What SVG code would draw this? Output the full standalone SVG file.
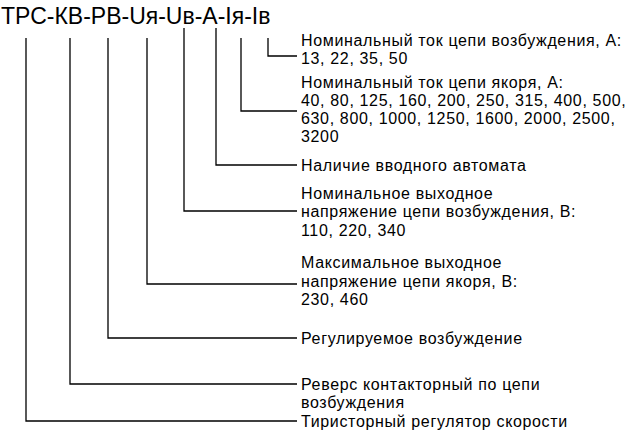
<svg xmlns="http://www.w3.org/2000/svg" width="630" height="434" viewBox="0 0 630 434">
<style>text{font-family:"Liberation Sans",Arial,sans-serif;fill:#000}.t{font-size:16px;letter-spacing:0.65px}.h{font-size:23px}#connectors path{fill:none;stroke:#000;stroke-width:1.3}</style>
<rect width="630" height="434" fill="#fff"/>
<g id="title"><text class="h" x="1" y="24">ТРС-КВ-РВ-Uя-Uв-А-Iя-Iв</text></g>
<g id="connectors">
<path d="M268 38V56H297"/>
<path d="M241 38V111H297"/>
<path d="M216 28V165H297"/>
<path d="M184 28V211H297"/>
<path d="M147 38V284H297"/>
<path d="M108 38V338H297"/>
<path d="M70 38V384H297"/>
<path d="M26 38V421H297"/>
</g>
<g id="n1"><text class="t" x="301" y="46">Номинальный ток цепи возбуждения, А:</text><text class="t" x="301" y="64">13, 22, 35, 50</text></g>
<g id="n2"><text class="t" x="301" y="88">Номинальный ток цепи якоря, А:</text><text class="t" x="301" y="106">40, 80, 125, 160, 200, 250, 315, 400, 500,</text><text class="t" x="301" y="124">630, 800, 1000, 1250, 1600, 2000, 2500,</text><text class="t" x="301" y="142">3200</text></g>
<g id="n3"><text class="t" x="301" y="171">Наличие вводного автомата</text></g>
<g id="n4"><text class="t" x="301" y="199">Номинальное выходное</text><text class="t" x="301" y="217">напряжение цепи возбуждения, В:</text><text class="t" x="301" y="236">110, 220, 340</text></g>
<g id="n5"><text class="t" x="301" y="268">Максимальное выходное</text><text class="t" x="301" y="287">напряжение цепи якоря, В:</text><text class="t" x="301" y="305">230, 460</text></g>
<g id="n6"><text class="t" x="301" y="344">Регулируемое возбуждение</text></g>
<g id="n7"><text class="t" x="301" y="390">Реверс контакторный по цепи</text><text class="t" x="301" y="408">возбуждения</text></g>
<g id="n8"><text class="t" x="301" y="427">Тиристорный регулятор скорости</text></g>
</svg>
